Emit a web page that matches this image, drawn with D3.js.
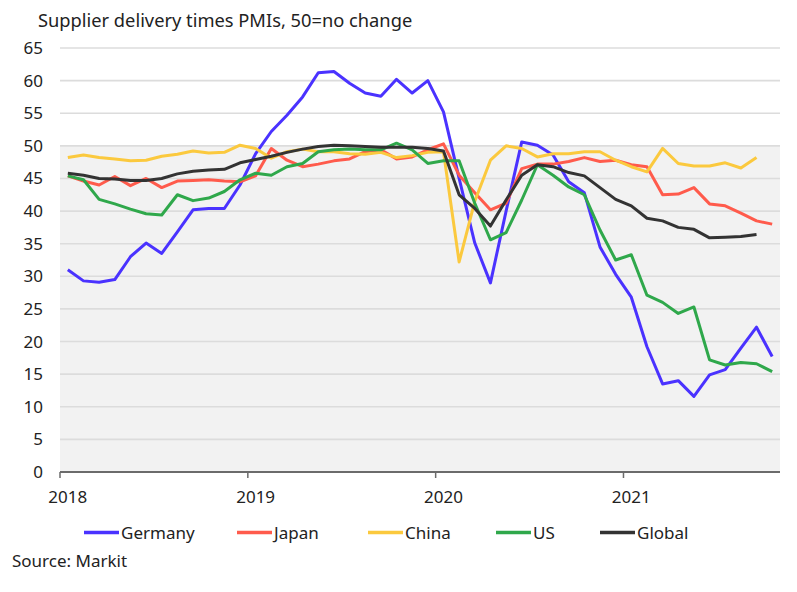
<!DOCTYPE html>
<html>
<head>
<meta charset="utf-8">
<script src="https://cdn.jsdelivr.net/npm/d3@7"></script>
<style>
  body { margin: 0; background: #fff; }
  text { font-family: "Noto Sans", "Open Sans", sans-serif; fill: #222; }
</style>
</head>
<body>
<svg id="chart" width="797" height="592"></svg>
<script>
// monthly categories, Jan 2018 - Oct 2021
var years = ["2018", "2019", "2020", "2021"];
var months = [];
years.forEach(function(y) {
  for (var m = 1; m <= 12; m++) months.push(y + "-" + (m < 10 ? "0" + m : m));
});
months = months.slice(0, 46);

var yTicks = [0, 5, 10, 15, 20, 25, 30, 35, 40, 45, 50, 55, 60, 65];

var germany = [31.0, 29.3, 29.1, 29.5, 33.0, 35.1, 33.5, 36.8, 40.2, 40.4, 40.4, 44.0,
  48.8, 52.2, 54.7, 57.5, 61.2, 61.4, 59.6, 58.1, 57.6, 60.2, 58.1, 60.0,
  55.2, 45.0, 35.1, 29.0, 40.0, 50.6, 50.1, 48.6, 44.5, 42.8, 34.5, 30.3,
  26.8, 19.2, 13.5, 14.0, 11.6, 14.9, 15.7, 19.0, 22.2, 17.7];
var japan = [45.4, 44.6, 44.0, 45.3, 43.9, 45.0, 43.6, 44.6, 44.7, 44.8, 44.6, 44.5,
  45.4, 49.6, 47.8, 46.8, 47.2, 47.7, 48.0, 49.1, 49.4, 48.0, 48.3, 49.4,
  50.3, 45.5, 42.8, 40.2, 41.2, 46.5, 47.2, 47.2, 47.6, 48.2, 47.6, 47.8,
  47.1, 46.8, 42.5, 42.6, 43.6, 41.1, 40.8, 39.7, 38.5, 38.0];
var china = [48.2, 48.6, 48.2, 48.0, 47.7, 47.8, 48.4, 48.7, 49.2, 48.9, 49.0, 50.1,
  49.6, 48.1, 49.1, 49.5, 49.1, 49.1, 48.8, 48.7, 49.0, 48.2, 48.5, 49.0,
  49.1, 32.2, 41.5, 47.8, 50.0, 49.6, 48.3, 48.8, 48.8, 49.1, 49.1, 47.8,
  46.8, 46.0, 49.6, 47.3, 46.9, 46.9, 47.4, 46.6, 48.2];
var us = [45.4, 44.8, 41.8, 41.1, 40.3, 39.6, 39.4, 42.5, 41.6, 42.0, 43.0, 44.8,
  45.8, 45.5, 46.8, 47.3, 49.1, 49.4, 49.5, 49.4, 49.4, 50.4, 49.4, 47.3,
  47.7, 47.7, 41.2, 35.6, 36.7, 41.7, 47.1, 45.5, 43.7, 42.5, 37.1, 32.5,
  33.3, 27.1, 26.0, 24.3, 25.3, 17.2, 16.4, 16.8, 16.6, 15.4];
var global = [45.8, 45.5, 45.0, 44.9, 44.7, 44.7, 45.0, 45.7, 46.1, 46.3, 46.4, 47.4,
  47.9, 48.4, 49.0, 49.5, 49.9, 50.1, 50.0, 49.9, 49.8, 49.8, 49.8, 49.6,
  49.2, 42.5, 40.4, 37.7, 41.7, 45.5, 47.1, 46.8, 45.9, 45.4, 43.6, 41.8,
  40.8, 38.9, 38.5, 37.5, 37.2, 35.9, 36.0, 36.1, 36.4];

var seriesNames = ["Germany", "Japan", "China", "US", "Global"];
var seriesValues = [germany, japan, china, us, global];
var seriesColors = ["#4a32ff", "#ff5b4c", "#fbc93e", "#2fa84b", "#333333"];

var svg = d3.select("#chart");
var margin = { left: 60, right: 17, top: 48, bottom: 120 };
var W = 797, H = 592;

var x = d3.scaleBand().domain(months).range([margin.left, W - margin.right]).padding(0);
var y = d3.scaleLinear().domain([0, 65]).range([H - margin.bottom, margin.top]);

// title
svg.append("text")
  .attr("x", 38).attr("y", 27)
  .style("font-size", "18.3px")
  .text("Supplier delivery times PMIs, 50=no change");

// shaded area below 50
svg.append("rect")
  .attr("x", x.range()[0]).attr("y", y(50))
  .attr("width", x.range()[1] - x.range()[0])
  .attr("height", y(0) - y(50))
  .attr("fill", "#f2f2f2");

// gridlines
svg.append("g").selectAll("line")
  .data(yTicks.filter(function(d) { return d > 0; }))
  .enter().append("line")
  .attr("x1", x.range()[0]).attr("x2", x.range()[1])
  .attr("y1", function(d) { return y(d); })
  .attr("y2", function(d) { return y(d); })
  .attr("stroke", "#dcdcdc").attr("stroke-width", 1.6);

// y labels
svg.append("g").selectAll("text")
  .data(yTicks).enter().append("text")
  .attr("x", 43).attr("y", function(d) { return y(d) + 6; })
  .attr("text-anchor", "end")
  .style("font-size", "17px")
  .text(function(d) { return d; });

// x axis
var xAxis = svg.append("g").attr("transform", "translate(0," + y(0) + ")");
xAxis.append("line")
  .attr("x1", x.range()[0]).attr("x2", x.range()[1])
  .attr("stroke", "#6b6b6b").attr("stroke-width", 2);
xAxis.selectAll(".tick").data(years).enter().append("line")
  .attr("x1", function(d) { return x(d + "-01"); })
  .attr("x2", function(d) { return x(d + "-01"); })
  .attr("y1", 0).attr("y2", 6)
  .attr("stroke", "#6b6b6b").attr("stroke-width", 1.5);
xAxis.selectAll("text").data(years).enter().append("text")
  .attr("x", function(d) { return x(d + "-01") + x.bandwidth() / 2; })
  .attr("y", 30.5)
  .attr("text-anchor", "middle")
  .style("font-size", "17px")
  .text(function(d) { return d; });

// lines
var line = d3.line()
  .x(function(d, i) { return x(months[i]) + x.bandwidth() / 2; })
  .y(function(d) { return y(d); });

svg.append("g").selectAll("path")
  .data(seriesValues).enter().append("path")
  .attr("d", line)
  .attr("fill", "none")
  .attr("stroke", function(d, i) { return seriesColors[i]; })
  .attr("stroke-width", 3)
  .attr("stroke-linejoin", "round");

// legend
var legendX = [84, 237, 368, 496, 600];
var legend = svg.append("g").selectAll("g")
  .data(seriesNames).enter().append("g")
  .attr("transform", function(d, i) { return "translate(" + legendX[i] + ",532.5)"; });
legend.append("line")
  .attr("x1", 0).attr("x2", 35)
  .attr("stroke", function(d, i) { return seriesColors[i]; })
  .attr("stroke-width", 3.5);
legend.append("text")
  .attr("x", 37).attr("y", 6)
  .style("font-size", "17px")
  .text(function(d) { return d; });

svg.append("text")
  .attr("x", 12).attr("y", 567)
  .style("font-size", "17px")
  .text("Source: Markit");
</script>
</body>
</html>
